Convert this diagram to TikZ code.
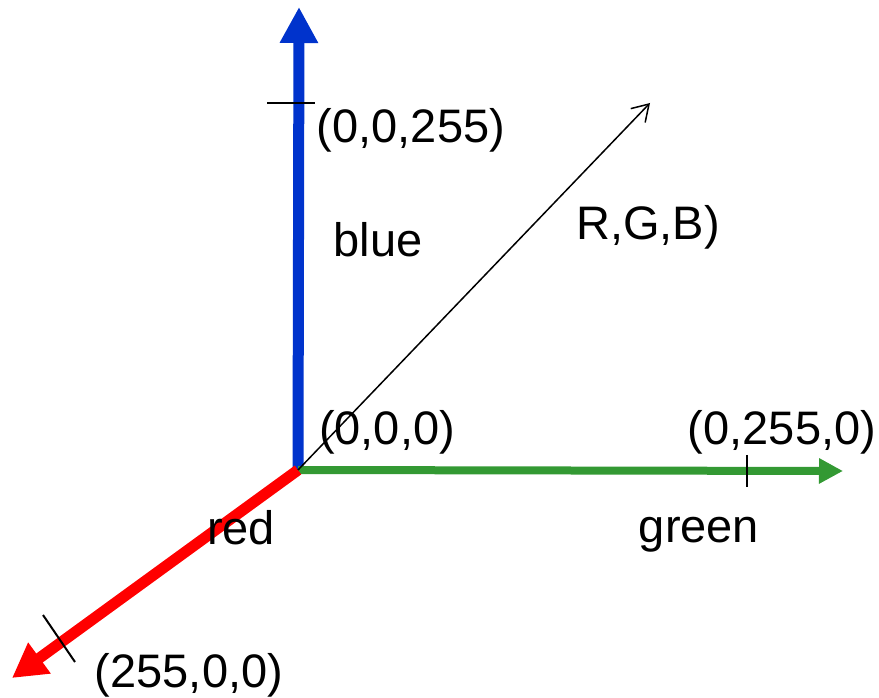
\documentclass[tikz,border=0pt]{standalone}
\usepackage{fontspec}
\setmainfont{Liberation Sans}
\usetikzlibrary{arrows.meta}
\definecolor{axisblue}{RGB}{0,51,204}
\definecolor{axisgreen}{RGB}{51,153,51}
\definecolor{axisred}{RGB}{255,0,0}
\tikzset{lbl/.style={inner sep=0pt,font=\fontsize{23.5}{28}\selectfont}}
\begin{document}
\begin{tikzpicture}[x=0.5pt,y=0.5pt]
\useasboundingbox (0,0) rectangle (879,697);
\coordinate (O) at (298,227);
\coordinate (B) at (299,690);
\coordinate (G) at (843,226);
\coordinate (R) at (12,19);
\coordinate (V) at (650,594);
\draw[axisblue,line width=5.5pt,-{Triangle[width=18pt,length=18pt]}] (O) -- (B);
\draw[axisgreen,line width=4pt,-{Triangle[width=12pt,length=12pt]}] (O) -- (G);
\draw[axisred,line width=5.5pt,-{Triangle[width=18pt,length=17pt]}] (O) -- (R);
\draw[line width=0.75pt,-{Straight Barb[width=10pt,length=8pt]}] (O) -- (V);
% tick marks
\coordinate (tb1) at (267,594);
\coordinate (tb2) at (315,594);
\draw[line width=1pt] (tb1) -- (tb2);
\coordinate (tg1) at (747,242);
\coordinate (tg2) at (747,210);
\draw[line width=1pt] (tg1) -- (tg2);
\coordinate (tr1) at (43,82);
\coordinate (tr2) at (75,35);
\draw[line width=1pt] (tr1) -- (tr2);
% labels
\node[lbl] (lb) at (411,567) {(0,0,255)};
\node[lbl] (lblue) at (378,457) {blue};
\node[lbl] (lv) at (648,470) {R,G,B)};
\node[lbl] (lo) at (387,265) {(0,0,0)};
\node[lbl] (lg) at (782,265) {(0,255,0)};
\node[lbl] (lred) at (241,169) {red};
\node[lbl] (lgreen) at (699,162) {green};
\node[lbl] (lr) at (189,22) {(255,0,0)};
\end{tikzpicture}
\end{document}
